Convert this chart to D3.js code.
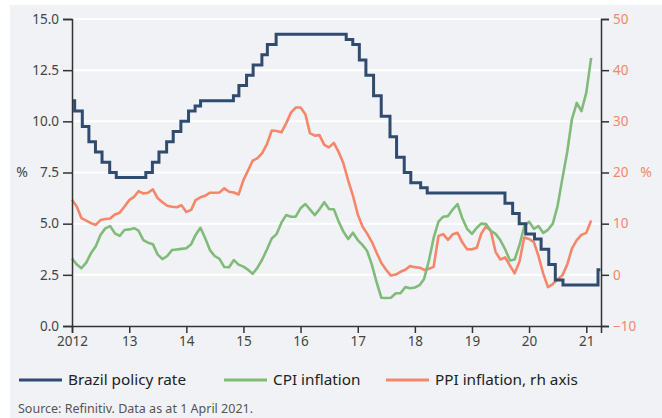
<!DOCTYPE html>
<html>
<head>
<meta charset="utf-8">
<script src="https://cdn.jsdelivr.net/npm/d3@7"></script>
<style>
  body { margin: 0; background: #fff; }
  svg text { font-family: "Noto Sans", "Open Sans", sans-serif; }
</style>
</head>
<body>
<div id="chart"></div>
<script>
// Policy rate change dates and levels (step series, % lhs)
var rateDates = ["2012-01-01","2012-01-18","2012-03-07","2012-04-18","2012-05-30","2012-07-11","2012-08-29","2012-10-10",
  "2013-04-17","2013-05-29","2013-07-10","2013-08-28","2013-10-09","2013-11-27","2014-01-15","2014-02-26","2014-04-02",
  "2014-10-29","2014-12-03","2015-01-21","2015-03-04","2015-04-29","2015-06-03","2015-07-29","2016-10-19","2016-11-30",
  "2017-01-11","2017-02-22","2017-04-12","2017-05-31","2017-07-26","2017-09-06","2017-10-25","2017-12-06","2018-02-07",
  "2018-03-21","2019-07-31","2019-09-18","2019-10-30","2019-12-11","2020-02-05","2020-03-18","2020-05-06","2020-06-17",
  "2020-08-05","2021-03-17","2021-04-01"];
var rateValues = [11,10.5,9.75,9,8.5,8,7.5,7.25,7.5,8,8.5,9,9.5,10,10.5,10.75,11,11.25,11.75,12.25,12.75,13.25,13.75,14.25,
  14,13.75,13,12.25,11.25,10.25,9.25,8.25,7.5,7,6.75,6.5,6,5.5,5,4.5,4.25,3.75,3,2.25,2,2.75,2.75];

// Monthly series from Jan 2012 to Feb 2021
var cpiValues = [3.3,3.0,2.82,3.1,3.55,3.9,4.45,4.77,4.88,4.53,4.4,4.69,
  4.72,4.78,4.66,4.2,4.07,4.0,3.5,3.27,3.42,3.71,3.74,3.77,
  3.8,4.0,4.45,4.8,4.3,3.71,3.42,3.28,2.88,2.87,3.22,3.0,
  2.9,2.74,2.55,2.85,3.25,3.75,4.28,4.49,5.05,5.42,5.34,5.34,
  5.75,5.96,5.7,5.42,5.7,6.05,5.72,5.7,5.1,4.61,4.25,4.56,
  4.2,3.95,3.68,3.0,2.15,1.38,1.37,1.38,1.6,1.6,1.9,1.84,
  1.88,2.0,2.3,3.2,4.3,5.1,5.34,5.37,5.7,5.95,5.25,4.75,
  4.5,4.8,5.0,4.98,4.65,4.5,4.2,3.75,3.2,3.25,3.96,4.85,
  5.1,4.75,4.88,4.55,4.7,5.0,5.85,7.2,8.5,10.1,10.9,10.5,
  11.4,13.1];
var ppiValues = [14.7,13.3,11.1,10.6,10.1,9.75,10.7,10.9,11.0,11.8,12.15,13.3,
  14.6,15.25,16.35,15.9,16.05,16.7,15.0,14.2,13.5,13.3,13.2,13.6,
  12.3,12.7,14.6,15.15,15.45,16.05,16.05,16.1,16.9,16.25,16.1,15.7,
  18.5,20.5,22.3,22.8,23.8,25.6,28.2,28.1,27.85,29.6,31.7,32.7,
  32.7,31.4,27.7,27.2,27.3,25.4,24.9,25.8,24.0,21.8,18.4,15.5,
  11.8,9.4,8.1,6.45,4.35,2.3,1.0,-0.15,0.05,0.6,1.0,1.7,
  1.5,1.4,0.95,1.2,1.55,7.6,7.95,6.85,7.95,8.2,6.3,5.0,
  4.98,5.3,8.0,9.5,8.6,4.5,3.0,3.4,1.8,0.3,2.6,7.3,
  7.0,6.4,3.7,0.2,-2.4,-1.8,-0.9,-0.1,2.0,5.1,6.8,7.8,
  8.2,10.6];

var leftTicks = [0, 2.5, 5, 7.5, 10, 12.5, 15];
var rightTicks = [-10, 0, 10, 20, 30, 40, 50];
var yearTicks = [2012, 2013, 2014, 2015, 2016, 2017, 2018, 2019, 2020, 2021];
var seriesNames = ["Brazil policy rate", "CPI inflation", "PPI inflation, rh axis"];
var seriesColors = ["#2f4b70", "#80bb7a", "#f5866a"];

var width = 662, height = 418;
var svg = d3.select("#chart").append("svg")
    .attr("width", width)
    .attr("height", height);

// panel background
svg.append("rect")
    .attr("x", 10).attr("y", 5)
    .attr("width", width - 10).attr("height", height - 5)
    .attr("fill", "#f1f2f5");

var parse = d3.timeParse("%Y-%m-%d");
var x = d3.scaleTime()
    .domain([new Date(2012, 0, 1), new Date(2021, 3, 5)])
    .range([72, 601]);
var yL = d3.scaleLinear().domain([0, 15]).range([326, 19]);
var yR = d3.scaleLinear().domain([-10, 50]).range([326, 19]);

// gridlines
svg.append("g")
    .selectAll("line")
    .data(leftTicks.filter(function(d) { return d > 0; }))
    .enter().append("line")
    .attr("x1", 72).attr("x2", 601)
    .attr("y1", function(d) { return yL(d); })
    .attr("y2", function(d) { return yL(d); })
    .attr("stroke", "#fff")
    .attr("stroke-width", 2);

var monthDate = function(i) { return new Date(2012, i, 1); };

var cpi = cpiValues.map(function(v, i) { return { date: monthDate(i), value: v }; });
var ppi = ppiValues.map(function(v, i) { return { date: monthDate(i), value: v }; });
var rate = rateDates.map(function(d, i) { return { date: parse(d), value: rateValues[i] }; });

var lineL = d3.line().x(function(d) { return x(d.date); }).y(function(d) { return yL(d.value); });
var lineR = d3.line().x(function(d) { return x(d.date); }).y(function(d) { return yR(d.value); });
var stepL = d3.line().curve(d3.curveStepAfter)
    .x(function(d) { return x(d.date); }).y(function(d) { return yL(d.value); });

svg.append("path").datum(ppi)
    .attr("d", lineR).attr("fill", "none")
    .attr("stroke", seriesColors[2]).attr("stroke-width", 2.6)
    .attr("stroke-linejoin", "round");
svg.append("path").datum(cpi)
    .attr("d", lineL).attr("fill", "none")
    .attr("stroke", seriesColors[1]).attr("stroke-width", 2.6)
    .attr("stroke-linejoin", "round");
svg.append("path").datum(rate)
    .attr("d", stepL).attr("fill", "none")
    .attr("stroke", seriesColors[0]).attr("stroke-width", 3);

// axes
var axisColor = "#333";
var gx = svg.append("g").attr("transform", "translate(0,326)")
    .call(d3.axisBottom(x)
        .tickValues(yearTicks.map(function(y) { return new Date(y, 0, 1); }))
        .tickSize(7).tickPadding(3)
        .tickFormat(function(d) {
            var y = d.getFullYear();
            return y === 2012 ? "2012" : String(y).slice(2);
        }));
var gl = svg.append("g").attr("transform", "translate(72,0)")
    .call(d3.axisLeft(yL).tickValues(leftTicks).tickSize(9).tickPadding(4)
        .tickFormat(d3.format(".1f")));
var gr = svg.append("g").attr("transform", "translate(601,0)")
    .call(d3.axisRight(yR).tickValues(rightTicks).tickSize(8).tickPadding(4));

[gx, gl, gr].forEach(function(g) {
    g.select(".domain").attr("stroke", axisColor).attr("stroke-width", 1.5);
    g.selectAll(".tick line").attr("stroke", axisColor).attr("stroke-width", 1.5);
    g.selectAll("text").attr("font-size", 13.5).attr("fill", "#444")
        .style("font-family", "'Noto Sans', sans-serif");
});
gr.selectAll("text").attr("fill", "#f5866a");

// unit labels
svg.append("text").attr("x", 22).attr("y", 172).attr("dy", "0.35em")
    .attr("text-anchor", "middle").attr("font-size", 14).attr("fill", "#444").text("%");
svg.append("text").attr("x", 646).attr("y", 172).attr("dy", "0.35em")
    .attr("text-anchor", "middle").attr("font-size", 14).attr("fill", "#f5866a").text("%");

// legend
var legendX = [19, 224, 386];
var legend = svg.append("g").selectAll("g")
    .data(seriesNames)
    .enter().append("g")
    .attr("transform", function(d, i) { return "translate(" + legendX[i] + ",380)"; });
legend.append("line")
    .attr("x1", 0).attr("x2", 43)
    .attr("stroke", function(d, i) { return seriesColors[i]; })
    .attr("stroke-width", 3);
legend.append("text")
    .attr("x", 49).attr("dy", "0.35em")
    .attr("font-size", 15.3).attr("fill", "#222")
    .text(function(d) { return d; });

// source note
svg.append("text").attr("x", 18).attr("y", 409).attr("dy", "0.35em")
    .attr("font-size", 12.5).attr("fill", "#555")
    .text("Source: Refinitiv. Data as at 1 April 2021.");
</script>
</body>
</html>
